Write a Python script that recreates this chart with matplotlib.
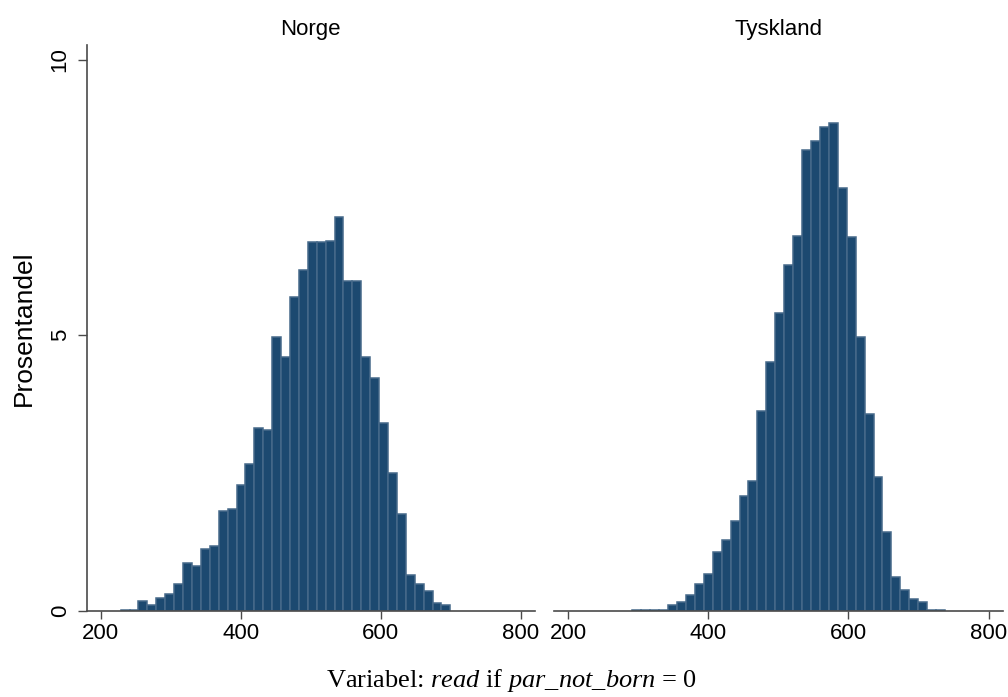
import numpy as np
import matplotlib
matplotlib.use("Agg")
import matplotlib.pyplot as plt

# ---- data (percent per bin) ----
panels = ["Norge", "Tyskland"]

norge_start = 228.5
norge_width = 12.72
norge_pct = [0.02, 0.02, 0.18, 0.10, 0.23, 0.30, 0.48, 0.87, 0.82, 1.12,
             1.17, 1.81, 1.84, 2.28, 2.67, 3.32, 3.28, 4.96, 4.61, 5.69,
             6.19, 6.70, 6.70, 6.72, 7.14, 5.98, 5.99, 4.61, 4.23, 3.41,
             2.50, 1.76, 0.65, 0.49, 0.36, 0.14, 0.10]

tysk_start = 291.8
tysk_width = 12.74
tysk_pct = [0.02, 0.02, 0.005, 0.02, 0.11, 0.16, 0.28, 0.49, 0.67, 1.07,
            1.28, 1.63, 2.08, 2.36, 3.63, 4.52, 5.41, 6.28, 6.81, 8.36,
            8.52, 8.78, 8.85, 7.67, 6.79, 4.96, 3.58, 2.43, 1.43, 0.61,
            0.38, 0.21, 0.15, 0.01, 0.01]

xticks = [200, 400, 600, 800]
yticks = [0, 5, 10]
ylabel = "Prosentandel"

plt.rcParams["font.family"] = ["Liberation Sans", "DejaVu Sans"]
plt.rcParams["mathtext.fontset"] = "custom"
plt.rcParams["mathtext.rm"] = "Liberation Serif"
plt.rcParams["mathtext.it"] = "Liberation Serif:italic"

W, H = 1008, 697
fig = plt.figure(figsize=(W / 100, H / 100), dpi=100)

bottom = 1 - 610.7 / H
top = 1 - 45 / H
axL = fig.add_axes([86.7 / W, bottom, (535 - 86.7) / W, top - bottom])
axR = fig.add_axes([554 / W, bottom, (1002.7 - 554) / W, top - bottom])

fill = "#1c4970"
edge = "#46698a"
spine_col = "#4a4a4a"

for ax, name, start, width, pct in [
    (axL, panels[0], norge_start, norge_width, norge_pct),
    (axR, panels[1], tysk_start, tysk_width, tysk_pct),
]:
    edges = start + width * np.arange(len(pct))
    ax.bar(edges, pct, width=width, align="edge", color=fill,
           edgecolor=edge, linewidth=1.1)
    ax.set_xlim(180, 820)
    ax.set_ylim(0, 10.27)
    ax.set_xticks(xticks)
    ax.set_xticklabels([str(t) for t in xticks], fontsize=16)
    ax.tick_params(axis="x", length=6, width=1, color=spine_col, pad=3)
    for s in ["top", "right"]:
        ax.spines[s].set_visible(False)
    ax.spines["bottom"].set_color(spine_col)
    ax.spines["bottom"].set_linewidth(1.2)
    ax.set_title(name, fontsize=16, pad=7)

axL.spines["left"].set_color(spine_col)
axL.spines["left"].set_linewidth(1.2)
axL.set_yticks(yticks)
axL.set_yticklabels([str(t) for t in yticks], fontsize=16, rotation=90,
                    va="center")
axL.tick_params(axis="y", length=6.5, width=1, color=spine_col, pad=5)
axL.set_ylabel(ylabel, fontsize=19, labelpad=10)

axR.spines["left"].set_visible(False)
axR.set_yticks([])

fig.text(512 / W, 1 - 680 / H,
         r"Variabel: $\mathit{read}$ if $\mathit{par\_not\_born}$ = $\mathit{0}$",
         ha="center", va="center", fontsize=19, family="Liberation Serif")

fig.savefig("out.png", dpi=100, facecolor="white")
